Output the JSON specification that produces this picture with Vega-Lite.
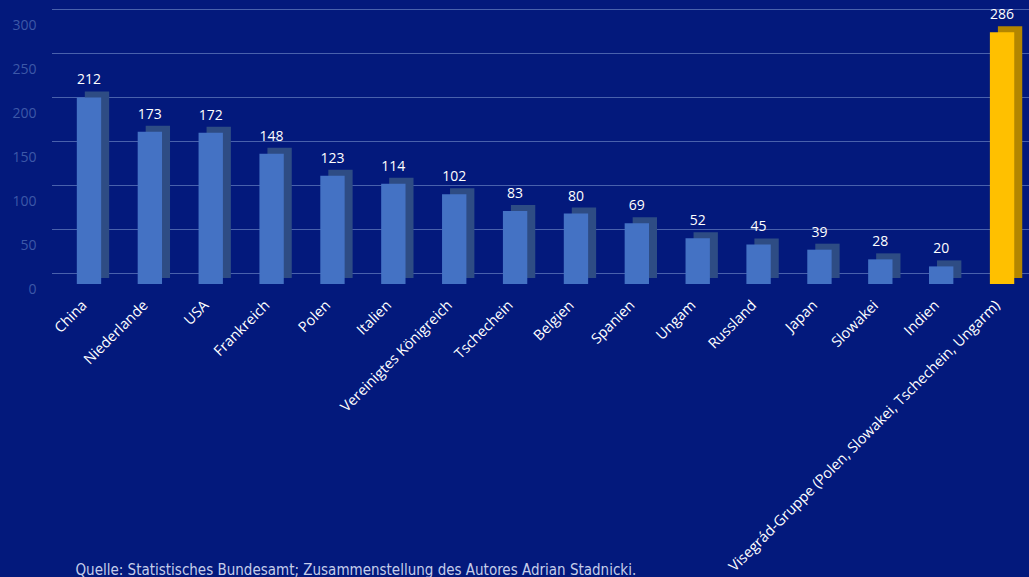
{
  "$schema": "https://vega.github.io/schema/vega-lite/v6.json",
  "autosize": {"type": "none"},
  "width": 977,
  "height": 264,
  "padding": {"left": 52, "top": 25, "right": 0, "bottom": 288},
  "background": "#03197c",
  "config": {
    "view": {"stroke": null},
    "font": "Open Sans",
    "axisY": {
      "title": null,
      "labelColor": "#3d58a8",
      "labelFontSize": 14,
      "labelPadding": 16,
      "domain": false,
      "ticks": false,
      "grid": false,
      "values": [0, 50, 100, 150, 200, 250, 300]
    }
  },
  "data": {
    "values": [
      {"land": "China", "wert": 212, "typ": "Land"},
      {"land": "Niederlande", "wert": 173, "typ": "Land"},
      {"land": "USA", "wert": 172, "typ": "Land"},
      {"land": "Frankreich", "wert": 148, "typ": "Land"},
      {"land": "Polen", "wert": 123, "typ": "Land"},
      {"land": "Italien", "wert": 114, "typ": "Land"},
      {"land": "Vereinigtes Königreich", "wert": 102, "typ": "Land"},
      {"land": "Tschechein", "wert": 83, "typ": "Land"},
      {"land": "Belgien", "wert": 80, "typ": "Land"},
      {"land": "Spanien", "wert": 69, "typ": "Land"},
      {"land": "Ungam", "wert": 52, "typ": "Land"},
      {"land": "Russland", "wert": 45, "typ": "Land"},
      {"land": "Japan", "wert": 39, "typ": "Land"},
      {"land": "Slowakei", "wert": 28, "typ": "Land"},
      {"land": "Indien", "wert": 20, "typ": "Land"},
      {"land": "Visegrád-Gruppe (Polen, Slowakei, Tschechein, Ungarm)", "wert": 286, "typ": "Gruppe"}
    ]
  },
  "encoding": {
    "x": {
      "field": "land",
      "type": "nominal",
      "sort": null,
      "scale": {"paddingInner": 0.6, "paddingOuter": 0.325, "align": 0.627},
      "axis": {
        "title": "Quelle: Statistisches Bundesamt; Zusammenstellung des Autores Adrian Stadnicki.",
        "titleX": 23,
        "titleY": 285,
        "titleAnchor": "start",
        "titleAlign": "left",
        "titleBaseline": "alphabetic",
        "titleFont": "DejaVu Sans Condensed, Roboto Condensed, Roboto, sans-serif",
        "titleFontSize": 15,
        "titleFontWeight": "normal",
        "titleColor": "#c5cdea",
        "labelAngle": -45,
        "labelAlign": "right",
        "labelBaseline": "middle",
        "labelColor": "#ffffff",
        "labelFontSize": 14.5,
        "labelPadding": 14,
        "labelOffset": -4,
        "labelLimit": 0,
        "labelOverlap": false,
        "domain": false,
        "ticks": false,
        "grid": false
      }
    }
  },
  "layer": [
    {
      "data": {"values": [{"t": 0}, {"t": 50}, {"t": 100}, {"t": 150}, {"t": 200}, {"t": 250}, {"t": 300}]},
      "mark": {"type": "rule", "color": "#5b73b8", "strokeWidth": 1, "opacity": 0.8, "yOffset": -15.5, "xOffset": 21},
      "encoding": {
        "x": null,
        "y": {"field": "t", "type": "quantitative", "scale": {"domain": [0, 300]}, "title": null}
      }
    },
    {
      "mark": {"type": "bar", "xOffset": 8, "yOffset": -11, "y2Offset": -11},
      "encoding": {
        "y": {"field": "wert", "type": "quantitative", "title": null},
        "y2": {"datum": 0},
        "color": {"field": "typ", "type": "nominal", "scale": {"domain": ["Land", "Gruppe"], "range": ["#2e4c84", "#b38600"]}, "legend": null}
      }
    },
    {
      "mark": {"type": "bar", "yOffset": -5, "y2Offset": -5},
      "encoding": {
        "y": {"field": "wert", "type": "quantitative", "title": null},
        "y2": {"datum": 0},
        "color": {"field": "typ", "type": "nominal", "scale": {"domain": ["Land", "Gruppe"], "range": ["#4472c4", "#ffc000"]}, "legend": null}
      }
    },
    {
      "mark": {"type": "text", "color": "#ffffff", "fontSize": 14, "baseline": "alphabetic", "dy": -18},
      "encoding": {
        "y": {"field": "wert", "type": "quantitative", "title": null},
        "text": {"field": "wert", "type": "quantitative"}
      }
    }
  ],
  "resolve": {"scale": {"color": "independent"}}
}
